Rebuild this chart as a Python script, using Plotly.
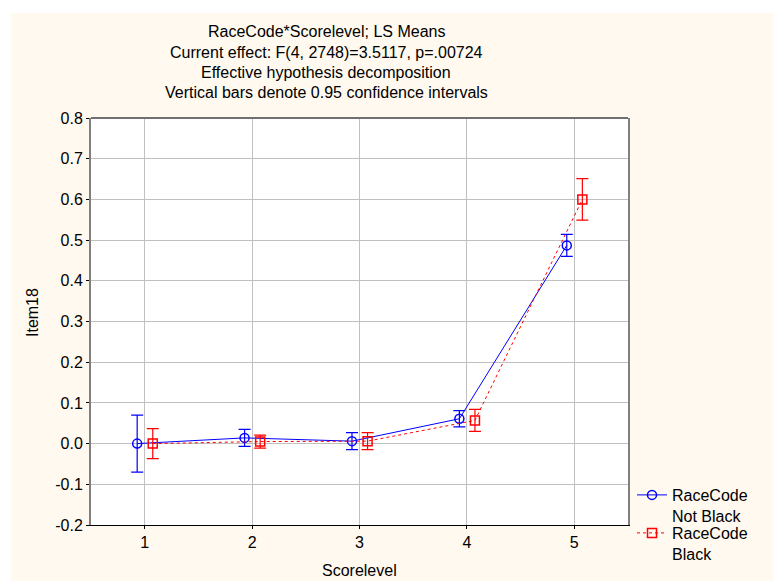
import plotly.graph_objects as go

# ---- data ----
score_levels = [1, 2, 3, 4, 5]
tick_labels = ["1", "2", "3", "4", "5"]

not_black_mean = [0.000, 0.014, 0.006, 0.061, 0.487]
not_black_ci = [0.070, 0.021, 0.021, 0.020, 0.027]

black_mean = [0.000, 0.005, 0.006, 0.057, 0.600]
black_ci = [0.037, 0.016, 0.021, 0.027, 0.051]

y_ticks = [-0.2, -0.1, 0.0, 0.1, 0.2, 0.3, 0.4, 0.5, 0.6, 0.7, 0.8]

title_lines = [
    "RaceCode*Scorelevel; LS Means",
    "Current effect: F(4, 2748)=3.5117, p=.00724",
    "Effective hypothesis decomposition",
    "Vertical bars denote 0.95 confidence intervals",
]

# ---- layout constants ----
W, H = 773, 581
L, R, T, B = 91, 628, 118, 525
FONT = "Arial, Liberation Sans, sans-serif"
CREAM = "#FFF9EF"
BLUE = "#0000FF"
RED = "#FF0000"
OFFSET_BLUE = -0.07
OFFSET_RED = 0.075


def px_x(px):
    return (px - L) / (R - L)


def px_y(py):
    return (B - py) / (B - T)


fig = go.Figure()

fig.add_trace(go.Scatter(
    x=[s + OFFSET_BLUE for s in score_levels],
    y=not_black_mean,
    mode="lines+markers",
    name="RaceCode<br>Not Black",
    legend="legend",
    line=dict(color=BLUE, width=1),
    marker=dict(symbol="circle-open", size=9, color=BLUE, line=dict(width=1.5, color=BLUE)),
    error_y=dict(type="data", array=not_black_ci, visible=True, color=BLUE, thickness=1.2, width=6),
))

fig.add_trace(go.Scatter(
    x=[s + OFFSET_RED for s in score_levels],
    y=black_mean,
    mode="lines+markers",
    name="RaceCode<br>Black",
    legend="legend2",
    line=dict(color=RED, width=1, dash="dot"),
    marker=dict(symbol="square-open", size=9, color=RED, line=dict(width=1.5, color=RED)),
    error_y=dict(type="data", array=black_ci, visible=True, color=RED, thickness=1.2, width=6),
))

annotations = []
title_y_px = [32, 52, 72, 92]
for txt, ypx in zip(title_lines, title_y_px):
    annotations.append(dict(
        text=txt, xref="paper", yref="paper", x=px_x(326), y=px_y(ypx),
        xanchor="center", yanchor="middle", showarrow=False,
        font=dict(family=FONT, size=16, color="#000000"),
    ))

annotations.append(dict(
    text="Scorelevel", xref="paper", yref="paper", x=0.5, y=px_y(570),
    xanchor="center", yanchor="middle", showarrow=False,
    font=dict(family=FONT, size=16, color="#000000"),
))
annotations.append(dict(
    text="Item18", xref="paper", yref="paper", x=px_x(32), y=px_y(313),
    xanchor="center", yanchor="middle", showarrow=False, textangle=-90,
    font=dict(family=FONT, size=16, color="#000000"),
))

shapes = [
    # white strips outside the cream panel (top and left)
    dict(type="rect", xref="paper", yref="paper", x0=px_x(-2), x1=px_x(W + 2), y0=px_y(13), y1=px_y(-2),
         fillcolor="#FFFFFF", line=dict(width=0), layer="below"),
    dict(type="rect", xref="paper", yref="paper", x0=px_x(-2), x1=px_x(11), y0=px_y(H + 2), y1=px_y(-2),
         fillcolor="#FFFFFF", line=dict(width=0), layer="below"),
    # top frame line
    dict(type="line", xref="paper", yref="paper", x0=0, x1=1, y0=1, y1=1,
         line=dict(color="#707070", width=2)),
]

legend_common = dict(
    xanchor="left", yanchor="top", valign="top",
    bgcolor="rgba(0,0,0,0)", borderwidth=0,
    font=dict(family=FONT, size=16, color="#000000"),
    itemwidth=30,
)

fig.update_layout(
    width=W, height=H,
    margin=dict(l=L, r=W - R, t=T, b=H - B, pad=0, autoexpand=False),
    paper_bgcolor=CREAM,
    plot_bgcolor="#FFFFFF",
    font=dict(family=FONT, size=16, color="#000000"),
    showlegend=True,
    legend=dict(x=px_x(632), y=px_y(478), **legend_common),
    legend2=dict(x=px_x(632), y=px_y(516), **legend_common),
    annotations=annotations,
    shapes=shapes,
    xaxis=dict(
        range=[0.5, 5.5],
        tickmode="array", tickvals=score_levels, ticktext=tick_labels,
        showgrid=True, gridcolor="#C0C0C0", gridwidth=1,
        zeroline=False,
        showline=True, linecolor="#000000", linewidth=1, mirror=False,
        ticks="outside", ticklen=3, tickcolor="#000000",
        tickfont=dict(family=FONT, size=16, color="#000000"),
    ),
    yaxis=dict(
        range=[-0.2, 0.8],
        tickmode="array", tickvals=y_ticks,
        ticktext=[f"{v:.1f}" for v in y_ticks],
        showgrid=True, gridcolor="#C0C0C0", gridwidth=1,
        zeroline=False,
        showline=True, linecolor="#808080", linewidth=2, mirror=True,
        ticks="outside", ticklen=3, tickcolor="#000000",
        tickfont=dict(family=FONT, size=16, color="#000000"),
    ),
)

fig.write_html(
    "out.html",
    config={"displayModeBar": False},
    post_script="document.body.style.margin='0';",
)
